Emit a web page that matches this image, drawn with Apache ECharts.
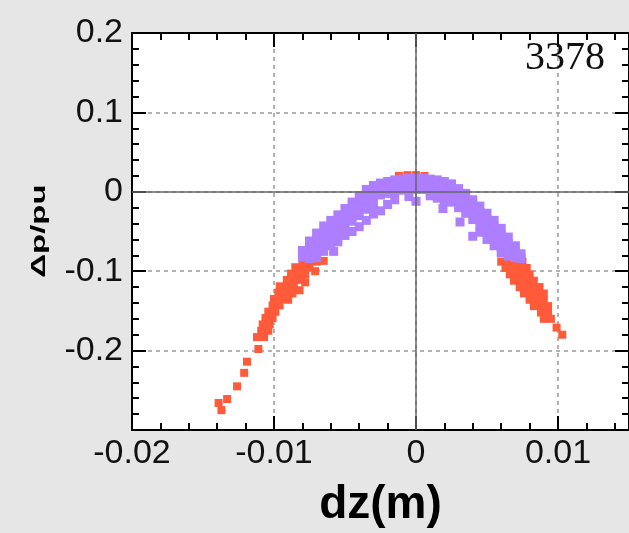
<!DOCTYPE html>
<html>
<head>
<meta charset="utf-8">
<script src="https://cdn.jsdelivr.net/npm/echarts@6/dist/echarts.min.js"></script>
<style>
html,body{margin:0;padding:0;background:#e6e6e6;}
#c{width:629px;height:533px;}
</style>
</head>
<body>
<div id="c"></div>
<script>
// tick labels / ranges
const xTicks = [-0.02, -0.01, 0, 0.01];
const yTicks = [0.2, 0.1, 0, -0.1, -0.2];
const runLabel = '3378';
const yName = 'Δp/pu';
const xName = 'dz(m)';

// purple (core) particles [dz, dp/p]
const purplePts = [
[-0.0080,-0.074],[-0.0080,-0.082],
[-0.0075,-0.062],[-0.0075,-0.070],[-0.0075,-0.078],[-0.0075,-0.084],
[-0.0070,-0.052],[-0.0070,-0.060],[-0.0070,-0.068],[-0.0070,-0.076],[-0.0070,-0.083],
[-0.0065,-0.043],[-0.0065,-0.051],[-0.0065,-0.059],[-0.0065,-0.067],[-0.0065,-0.075],
[-0.0060,-0.036],[-0.0060,-0.044],[-0.0060,-0.052],[-0.0060,-0.060],[-0.0060,-0.068],
[-0.0055,-0.029],[-0.0055,-0.037],[-0.0055,-0.045],[-0.0055,-0.053],[-0.0055,-0.063],
[-0.0050,-0.021],[-0.0050,-0.029],[-0.0050,-0.037],[-0.0050,-0.045],[-0.0050,-0.055],
[-0.0045,-0.013],[-0.0045,-0.021],[-0.0045,-0.029],[-0.0045,-0.037],[-0.0045,-0.050],
[-0.0040,-0.005],[-0.0040,-0.013],[-0.0040,-0.021],[-0.0040,-0.030],[-0.0040,-0.044],
[-0.0035,0.003],[-0.0035,-0.005],[-0.0035,-0.013],[-0.0035,-0.022],[-0.0035,-0.036],
[-0.0030,0.008],[-0.0030,0.000],[-0.0030,-0.008],[-0.0030,-0.018],[-0.0030,-0.028],
[-0.0025,0.011],[-0.0025,0.004],[-0.0025,-0.004],[-0.0025,-0.024],
[-0.0020,0.013],[-0.0020,0.006],[-0.0020,-0.002],[-0.0020,-0.016],
[-0.0015,0.015],[-0.0015,0.008],[-0.0015,0.000],[-0.0015,-0.010],
[-0.0010,0.016],[-0.0010,0.009],[-0.0010,0.002],
[-0.0005,0.017],[-0.0005,0.010],[-0.0005,0.003],[-0.0005,-0.006],
[0.0000,0.017],[0.0000,0.010],[0.0000,0.003],[0.0000,-0.012],
[0.0005,0.017],[0.0005,0.010],[0.0005,0.003],
[0.0010,0.016],[0.0010,0.009],[0.0010,0.002],[0.0010,-0.005],
[0.0015,0.015],[0.0015,0.008],[0.0015,0.000],[0.0015,-0.008],
[0.0020,0.013],[0.0020,0.006],[0.0020,-0.002],[0.0020,-0.010],[0.0019,-0.021],
[0.0025,0.010],[0.0025,0.003],[0.0025,-0.005],[0.0025,-0.013],
[0.0030,0.004],[0.0030,-0.004],[0.0030,-0.012],[0.0030,-0.020],[0.0031,-0.038],
[0.0035,-0.002],[0.0035,-0.010],[0.0035,-0.018],[0.0035,-0.027],
[0.0040,-0.010],[0.0040,-0.018],[0.0040,-0.026],[0.0040,-0.035],[0.0040,-0.056],
[0.0045,-0.018],[0.0045,-0.026],[0.0045,-0.034],[0.0045,-0.043],[0.0045,-0.051],
[0.0050,-0.027],[0.0050,-0.035],[0.0050,-0.043],[0.0050,-0.051],[0.0050,-0.060],
[0.0055,-0.036],[0.0055,-0.044],[0.0055,-0.052],[0.0055,-0.060],[0.0055,-0.068],
[0.0060,-0.046],[0.0060,-0.054],[0.0060,-0.062],[0.0060,-0.070],[0.0060,-0.077],
[0.0065,-0.057],[0.0065,-0.065],[0.0065,-0.073],[0.0065,-0.081],
[0.0070,-0.068],[0.0070,-0.076],[0.0070,-0.083],
[0.0074,-0.078],[0.0074,-0.084],
[-0.0058,-0.075]
];

// red (tail) particles [dz, dp/p]
const redPts = [
[-0.0012,0.020],[-0.0006,0.021],[0.0000,0.021],[0.0006,0.020],
[-0.0080,-0.088],[-0.0075,-0.088],[-0.0070,-0.088],[-0.0065,-0.087],
[-0.0085,-0.095],[-0.0080,-0.095],[-0.0075,-0.095],[-0.0071,-0.100],
[-0.0088,-0.103],[-0.0083,-0.103],[-0.0078,-0.104],
[-0.0091,-0.111],[-0.0086,-0.111],[-0.0081,-0.111],[-0.0078,-0.114],
[-0.0096,-0.119],[-0.0091,-0.119],[-0.0086,-0.119],[-0.0082,-0.124],
[-0.0097,-0.127],[-0.0092,-0.127],[-0.0087,-0.128],
[-0.0100,-0.135],[-0.0095,-0.135],[-0.0090,-0.136],
[-0.0101,-0.143],[-0.0096,-0.143],
[-0.0104,-0.151],[-0.0099,-0.151],
[-0.0106,-0.159],[-0.0101,-0.159],
[-0.0108,-0.167],[-0.0103,-0.167],
[-0.0109,-0.175],[-0.0104,-0.175],
[-0.0112,-0.183],[-0.0107,-0.183],
[-0.0111,-0.198],
[-0.0119,-0.214],[-0.0121,-0.228],[-0.0126,-0.245],
[-0.0133,-0.261],[-0.0139,-0.266],[-0.0137,-0.275],
[0.0060,-0.088],[0.0065,-0.088],[0.0070,-0.088],[0.0075,-0.088],
[0.0063,-0.096],[0.0068,-0.096],[0.0073,-0.096],[0.0078,-0.096],
[0.0066,-0.104],[0.0071,-0.104],[0.0076,-0.104],[0.0080,-0.104],
[0.0069,-0.112],[0.0074,-0.112],[0.0079,-0.112],[0.0083,-0.112],
[0.0073,-0.120],[0.0078,-0.120],[0.0083,-0.120],[0.0087,-0.120],
[0.0076,-0.128],[0.0081,-0.128],[0.0086,-0.128],[0.0090,-0.128],
[0.0080,-0.136],[0.0085,-0.136],[0.0090,-0.136],
[0.0083,-0.144],[0.0088,-0.144],[0.0093,-0.144],
[0.0088,-0.152],[0.0093,-0.152],
[0.0090,-0.160],[0.0095,-0.160],
[0.0099,-0.171],[0.0103,-0.180]
];

const FONT = '"Liberation Sans", Arial, sans-serif';
const fmt = v => String(Math.round(v * 1000) / 1000);

const chart = echarts.init(document.getElementById('c'), null, {renderer: 'canvas'});

const tickCommon = {
  axisLine: {show: true, onZero: false, lineStyle: {color: '#000', width: 2}},
  axisTick: {show: true, inside: true, length: 14, lineStyle: {color: '#000', width: 2}},
  minorTick: {show: true, splitNumber: 5, length: 7, lineStyle: {color: '#000', width: 2}},
  minorSplitLine: {show: false}
};

const option = {
  backgroundColor: '#e6e6e6',
  animation: false,
  grid: {left: 132, right: -1, top: 33, bottom: 102, show: true, backgroundColor: '#fff', borderWidth: 0},
  xAxis: [
    Object.assign({
      type: 'value', position: 'bottom', min: -0.02, max: 0.015, interval: 0.01,
      name: xName, nameLocation: 'middle', nameGap: 52,
      nameTextStyle: {fontFamily: FONT, fontWeight: 'bold', fontSize: 46, color: '#000'},
      axisLabel: {
        show: true, margin: 7, fontFamily: FONT, fontSize: 34, color: '#111',
        showMaxLabel: false,
        formatter: v => (xTicks.some(t => Math.abs(t - v) < 1e-9) ? fmt(v) : '')
      },
      splitLine: {show: true, lineStyle: {color: '#999', width: 1.5, type: [4, 4]}}
    }, tickCommon),
    Object.assign({
      type: 'value', position: 'top', min: -0.02, max: 0.015, interval: 0.01,
      axisLabel: {show: false}, splitLine: {show: false}
    }, tickCommon)
  ],
  yAxis: [
    Object.assign({
      type: 'value', position: 'left', min: -0.3, max: 0.2, interval: 0.1,
      axisLabel: {
        show: true, margin: 9, fontFamily: FONT, fontSize: 34, color: '#111',
        formatter: v => (yTicks.some(t => Math.abs(t - v) < 1e-9) ? fmt(v) : '')
      },
      splitLine: {show: true, lineStyle: {color: '#999', width: 1.5, type: [4, 4]}}
    }, tickCommon),
    Object.assign({
      type: 'value', position: 'right', min: -0.3, max: 0.2, interval: 0.1,
      axisLabel: {show: false}, splitLine: {show: false}
    }, tickCommon)
  ],
  series: [
    {
      type: 'line', data: [], z: 1, silent: true,
      markLine: {
        silent: true, symbol: 'none', animation: false,
        label: {show: false},
        lineStyle: {color: '#666', width: 1.5, type: 'solid'},
        data: [{xAxis: 0}, {yAxis: 0}]
      }
    },
    {
      name: 'tail', type: 'scatter', z: 3, symbol: 'rect', symbolSize: 8, silent: true,
      itemStyle: {color: '#ff5a3a', opacity: 1}, data: redPts
    },
    {
      name: 'core', type: 'scatter', z: 4, symbol: 'rect', symbolSize: 9, silent: true,
      itemStyle: {color: '#ad7eff', opacity: 1}, data: purplePts
    }
  ],
  graphic: [
    {
      type: 'text', right: 24, top: 38, z: 10,
      style: {text: runLabel, font: '40px "Liberation Serif", "Times New Roman", serif', fill: '#111'}
    },
    {
      type: 'text', x: 39, y: 231, rotation: Math.PI / 2, scaleX: 1.65, z: 10,
      style: {text: yName, font: 'bold 20px "Liberation Sans", Arial, sans-serif', fill: '#000',
              align: 'center', verticalAlign: 'middle'}
    }
  ]
};
chart.setOption(option);
</script>
</body>
</html>
